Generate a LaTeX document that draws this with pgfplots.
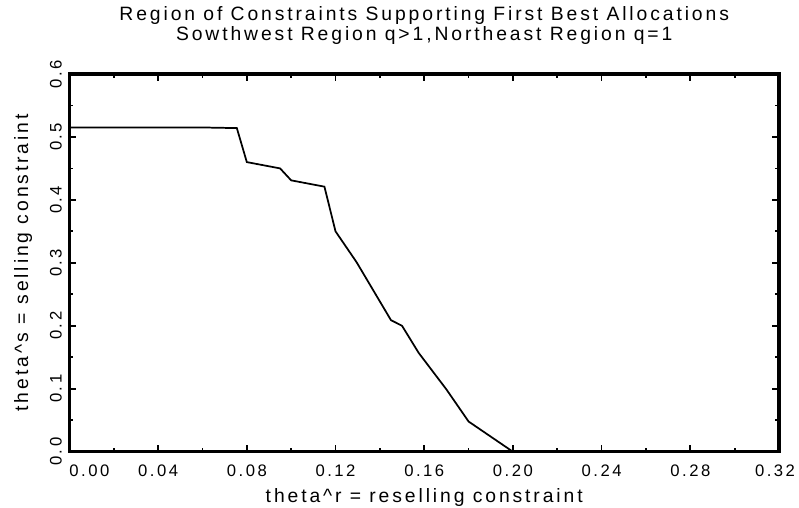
\documentclass[border=0pt]{standalone}
\usepackage{fontspec}
\setmainfont{Liberation Sans}[LetterSpace=15]
\usepackage{pgfplots}
\pgfplotsset{compat=1.18}

\begin{document}
\begin{tikzpicture}[font=\fontsize{14.5}{17}\selectfont]
\begin{axis}[
    name=ax,
    scale only axis,
    width=532.5pt, height=283.5pt,
    xmin=0, xmax=0.32, ymin=0, ymax=0.6,
    xtick={0,0.04,...,0.32},
    xticklabels={\hspace*{30pt}0.00,0.04,0.08,0.12,0.16,0.20,0.24,0.28,0.32\hspace*{6pt}},
    ytick={0,0.1,...,0.6},
    yticklabels={0.0,0.1,0.2,0.3,0.4,0.5,0.6},
    minor x tick num=1, minor y tick num=1,
    tick align=inside,
    major tick length=5pt, minor tick length=3pt,
    axis line style={line width=2.4pt},
    every tick/.style={black, line width=1.3pt},
    tick label style={font=\fontsize{12.5}{15}\selectfont},
    xticklabel style={anchor=north, inner sep=0pt, yshift=-9.5pt},
    yticklabel style={rotate=90, anchor=south, inner xsep=0pt, inner ysep=5.5pt},
    xlabel={theta\textasciicircum r = reselling constraint},
    ylabel={theta\textasciicircum s = selling constraint},
    xlabel style={at={(axis description cs:0.5,-0.1349)}, anchor=base, inner sep=0pt},
    ylabel style={at={(axis description cs:-0.0582,0.5)}, anchor=base, inner sep=0pt},
]
\addplot[black, line width=1.3pt] coordinates {
    (0.000,0.515) (0.060,0.515) (0.0755,0.514) (0.080,0.460)
    (0.095,0.450) (0.100,0.431) (0.115,0.421) (0.120,0.350)
    (0.1295,0.301) (0.145,0.209) (0.150,0.200) (0.1575,0.157)
    (0.170,0.099) (0.180,0.048) (0.200,0.000)
};
\end{axis}
\node[anchor=base, inner sep=0pt] at ([yshift=39.75pt]ax.north) {Region of Constraints Supporting First Best Allocations};
\node[anchor=base, inner sep=0pt] at ([yshift=24.75pt]ax.north) {Sowthwest Region q>1,Northeast Region q=1};
\pgfresetboundingbox
\useasboundingbox ([xshift=-52.1pt,yshift=-42pt]ax.south west) rectangle ([xshift=15pt,yshift=55.5pt]ax.north east);
\end{tikzpicture}
\end{document}
